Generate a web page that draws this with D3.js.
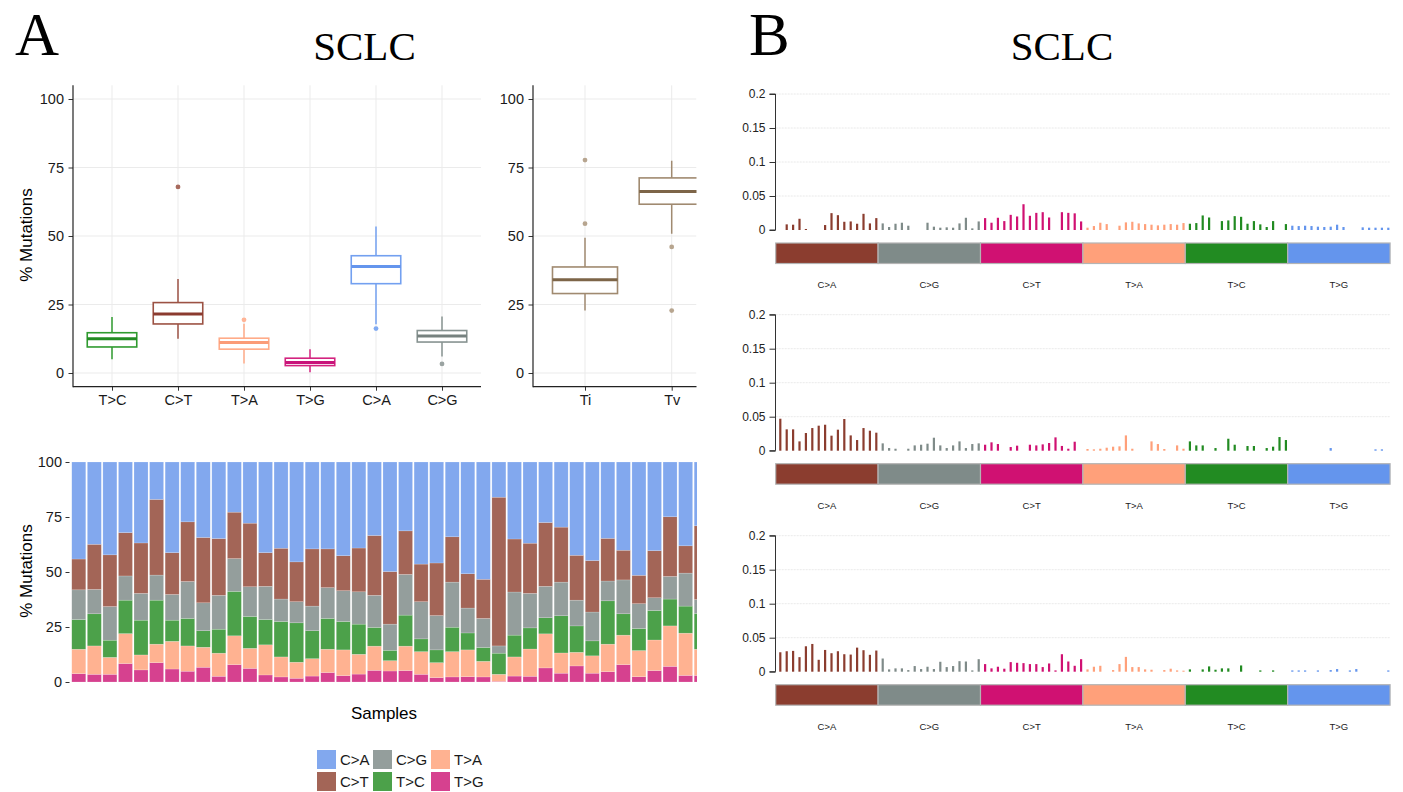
<!DOCTYPE html>
<html><head><meta charset="utf-8">
<script src="https://cdn.jsdelivr.net/npm/d3@7"></script>
<style>body{margin:0;background:#fff}svg{display:block}</style>
</head><body>
<svg id="c" width="1403" height="792"></svg>
<script>
// ---------------- DATA ----------------
// Panel A, box plot of six substitution classes (% mutations)
const boxCategories = ["T>C", "C>T", "T>A", "T>G", "C>A", "C>G"];
const boxLow    = [5.0, 12.5, 3.5, 0.3, 17.8, 6.0];
const boxQ1     = [9.5, 17.9, 8.7, 2.7, 32.6, 11.3];
const boxMedian = [12.5, 21.5, 11.1, 3.8, 38.9, 13.5];
const boxQ3     = [14.7, 25.7, 12.7, 5.4, 42.8, 15.5];
const boxHigh   = [20.4, 34.3, 18.0, 8.7, 53.5, 20.6];
const boxOutliers = [[], [67.9], [19.4], [], [16.2], [3.3]];

// Panel A, Ti / Tv box plot
const titvCategories = ["Ti", "Tv"];
const titvLow    = [22.8, 50.8];
const titvQ1     = [29.0, 61.6];
const titvMedian = [34.0, 66.2];
const titvQ3     = [38.7, 71.2];
const titvHigh   = [49.4, 77.5];
const titvOutliers = [[54.5, 77.7], [46.0, 22.8]];

// Panel A, stacked bars per sample (% of mutations)
const yTicks = [0, 25, 50, 75, 100];
const sampleIds = d3.range(1, 42).map(String);
const pctTG = [3.8,3.5,3.5,8.4,5.5,8.8,5.9,4.9,6.7,2.6,7.9,6.2,3.2,2.3,1.7,2.7,4.3,2.9,3.6,5.3,5.0,5.2,3.5,2.0,2.3,2.4,2.3,0.3,2.7,2.6,6.4,4.0,7.3,4.0,4.7,7.9,2.4,5.2,7.1,3.0,3.0];
const pctTA = [11.1,12.9,7.7,13.6,6.8,8.4,12.6,11.5,9.1,10.5,13.1,9.1,13.7,9.1,7.3,7.9,10.6,11.7,9.0,11.0,4.7,11.1,10.3,6.8,11.5,12.2,7.1,3.2,8.7,12.4,15.5,9.2,6.2,7.9,12.5,13.4,11.9,13.9,18.4,19.2,11.9];
const pctTC = [13.5,14.6,7.8,15.2,15.8,20.0,9.6,12.5,7.5,10.9,20.2,14.5,11.5,16.1,17.9,12.7,14.0,12.9,13.7,8.5,4.7,14.1,5.8,5.8,11.1,7.7,6.3,9.6,9.9,9.6,7.3,16.9,12.0,6.8,19.7,9.7,10.0,13.4,12.2,12.3,16.3];
const pctCG = [13.5,11.1,15.3,11.0,12.2,11.4,11.7,16.8,12.7,15.4,14.9,13.5,15.1,10.2,9.6,11.2,14.0,14.0,14.7,14.6,11.9,18.5,16.9,15.6,20.5,11.3,13.2,3.3,19.6,15.7,14.3,15.3,11.7,13.1,9.0,15.4,11.3,5.8,10.3,15.0,6.3];
const pctCT = [14.0,20.5,23.5,19.7,22.9,34.4,19.0,27.1,29.7,25.8,21.1,28.9,15.3,23.1,18.1,26.0,17.6,15.9,19.9,27.2,23.9,19.8,17.1,23.9,20.6,15.6,17.8,67.6,24.1,22.8,29.0,25.0,20.4,23.4,19.4,13.5,12.9,21.4,27.1,12.4,33.5];
const pctCA = [44.1,37.4,42.2,32.1,36.8,17.0,41.2,27.2,34.3,34.8,22.8,27.8,41.2,39.2,45.4,39.5,39.5,42.6,39.1,33.4,49.8,31.3,46.4,45.9,34.0,50.8,53.3,16.0,35.0,36.9,27.5,29.6,42.4,44.8,34.7,40.1,51.5,40.3,24.9,38.1,29.0];
const legendOrder = ["C>A", "C>G", "T>A", "C>T", "T>C", "T>G"];

// Panel B, 96-channel spectra
const mutationTypes = ["C>A", "C>G", "C>T", "T>A", "T>C", "T>G"];
const specTicks = [0, 0.05, 0.1, 0.15, 0.2];
const spectrum1 = [
 0,0.0083,0.0078,0.0165,0.0015,0,0,0.0073,0.0248,0.0218,0.0121,0.0126,0.0092,0.0238,0.0097,0.0175,
 0.0097,0.0044,0.0092,0.0107,0.0063,0,0,0.0107,0.0049,0.0034,0.0039,0.0034,0.0097,0.018,0.0024,0.0126,
 0.0175,0.0107,0.018,0.0131,0.0223,0.0199,0.0379,0.0209,0.0252,0.0262,0.0184,0,0.0262,0.0252,0.0245,0.0126,
 0.0034,0.0058,0.0107,0.0087,0,0.0063,0.0112,0.0121,0.0097,0.0087,0.0078,0.0068,0.0078,0.0087,0.0078,0.0102,
 0.0092,0.0102,0.0214,0.0184,0,0.0131,0.0141,0.0204,0.0194,0.0092,0.0131,0.0083,0.0044,0.0131,0,0.0087,
 0.0063,0.0058,0.0063,0.0058,0.0049,0.0044,0.0049,0.0078,0.0044,0,0,0.0039,0.0034,0.0034,0.0034,0.0034];
const spectrum2 = [
 0.047,0.0314,0.0314,0.0137,0.026,0.0333,0.0368,0.0382,0.0221,0.0309,0.0466,0.0225,0.0157,0.0333,0.0294,0.0265,
 0.0108,0.0039,0.0029,0,0.0029,0.0078,0.0088,0.0103,0.0191,0.0078,0.0039,0.0078,0.0137,0.0039,0.0098,0.0108,
 0.0088,0.0123,0.0098,0,0.0054,0.0074,0,0.0088,0.0078,0.0093,0.0113,0.0196,0.007,0.0029,0.0132,0,
 0.0025,0.002,0.0029,0.0044,0.0059,0.0064,0.0225,0.0029,0,0,0.0137,0.0098,0.0025,0,0.0078,0.0029,
 0.0137,0.0078,0.0078,0,0.0039,0,0.0176,0.0088,0,0.0069,0.0069,0,0.0039,0.0059,0.0201,0.0157,
 0,0,0,0,0,0,0.0039,0,0,0,0,0,0,0.002,0.002,0];
const spectrum3 = [
 0.0286,0.0301,0.0306,0.0214,0.0374,0.0408,0.0175,0.032,0.0272,0.0301,0.0257,0.0252,0.0354,0.0316,0.0248,0.0311,
 0.0194,0.0034,0.0049,0.0049,0.0024,0.0083,0.0039,0.0073,0.0039,0.0146,0.0068,0.0083,0.0155,0.015,0.0019,0.0184,
 0.0112,0.0049,0.0073,0.0044,0.0141,0.0131,0.0126,0.0112,0.0112,0.0068,0.0121,0.0019,0.0257,0.015,0.0087,0.0184,
 0.0034,0.0073,0.0087,0,0.0024,0.0112,0.0218,0.0068,0.0068,0.0034,0.0029,0,0.0024,0.0044,0.0019,0.0015,
 0.0034,0,0.0034,0.0078,0.0029,0.0049,0.0049,0,0.0092,0,0,0.0019,0,0.0019,0,0,
 0.0019,0.0019,0.0019,0,0.0019,0,0.0024,0.0039,0,0.0019,0.0039,0,0,0,0,0.0019];

// ---------------- STYLE ----------------
const SANS = "'Liberation Sans', Arial, sans-serif";
const SERIF = "'Liberation Serif', 'Times New Roman', serif";
const boxStroke = {"T>C":"#2f9b2f","C>T":"#9c5244","T>A":"#ffab88","T>G":"#d3237f","C>A":"#73a0f0","C>G":"#879391"};
const boxMed    = {"T>C":"#228B22","C>T":"#8B3A2E","T>A":"#fb9c78","T>G":"#c8137a","C>A":"#6495ED","C>G":"#76817f"};
const boxPt     = {"T>C":"#5fb35f","C>T":"#a76a5d","T>A":"#ffb496","T>G":"#dc5aa0","C>A":"#80aaf2","C>G":"#9aa3a1"};
const stackColor = {"C>A":"#82a8ee","C>T":"#a36557","C>G":"#949e9c","T>A":"#ffb291","T>C":"#4ca14a","T>G":"#d6418f"};
const specColor = {"C>A":"#8b3d2f","C>G":"#7f8b89","C>T":"#d01172","T>A":"#ffa07a","T>C":"#228b22","T>G":"#6495ed"};

const svg = d3.select("#c");
const txt = (x, y, s, size, fam, anchor) => svg.append("text").attr("x", x).attr("y", y)
  .attr("text-anchor", anchor || "start").style("font-family", fam).style("font-size", size + "px")
  .attr("fill", "#000").text(s);

// titles
txt(15, 54.5, "A", 61, SERIF);
txt(364.5, 60, "SCLC", 41, SERIF, "middle");
txt(749, 54.5, "B", 61, SERIF);
txt(1062, 60, "SCLC", 41, SERIF, "middle");

// ---------------- BOX PLOTS ----------------
const yB = d3.scaleLinear().domain([0, 100]).range([373, 99]);
const yTop = yB(105), yBot = yB(-5);

svg.append("defs").append("clipPath").attr("id", "clipTitv")
  .append("rect").attr("x", 520).attr("y", 70).attr("width", 176.5).attr("height", 340);
svg.select("defs").append("clipPath").attr("id", "clipStack")
  .append("rect").attr("x", 60).attr("y", 450).attr("width", 637).attr("height", 240);

function boxPanel(cats, lo, q1, med, q3, hi, outs, left, right, c0, c1, colorOf, clip) {
  const x = d3.scalePoint().domain(cats).range([c0, c1]);
  const step = cats.length > 1 ? (c1 - c0) / (cats.length - 1) : 60;
  const bw = step * 0.75;
  const g = svg.append("g");
  const inner = g.append("g");
  if (clip) inner.attr("clip-path", "url(#" + clip + ")");
  // grid
  inner.selectAll(".hg").data(yTicks).join("line")
    .attr("x1", left).attr("x2", right).attr("y1", d => yB(d)).attr("y2", d => yB(d))
    .attr("stroke", "#ebebeb").attr("stroke-width", 1);
  inner.selectAll(".vg").data(cats).join("line")
    .attr("x1", d => x(d)).attr("x2", d => x(d)).attr("y1", yTop).attr("y2", yBot)
    .attr("stroke", "#ebebeb").attr("stroke-width", 1);
  cats.forEach((c, i) => {
    const col = colorOf(c);
    const cx = x(c);
    inner.append("line").attr("x1", cx).attr("x2", cx).attr("y1", yB(hi[i])).attr("y2", yB(q3[i]))
      .attr("stroke", col.s).attr("stroke-width", 1.5);
    inner.append("line").attr("x1", cx).attr("x2", cx).attr("y1", yB(q1[i])).attr("y2", yB(lo[i]))
      .attr("stroke", col.s).attr("stroke-width", 1.5);
    inner.append("rect").attr("x", cx - bw / 2).attr("width", bw)
      .attr("y", yB(q3[i])).attr("height", yB(q1[i]) - yB(q3[i]))
      .attr("fill", "#fff").attr("stroke", col.s).attr("stroke-width", 1.6);
    inner.append("line").attr("x1", cx - bw / 2).attr("x2", cx + bw / 2)
      .attr("y1", yB(med[i])).attr("y2", yB(med[i]))
      .attr("stroke", col.m).attr("stroke-width", 3);
    inner.selectAll(null).data(outs[i]).join("circle")
      .attr("cx", cx).attr("cy", d => yB(d)).attr("r", 2.4).attr("fill", col.p);
  });
  // axes
  const ya = g.append("g").attr("transform", `translate(${left},0)`)
    .call(d3.axisLeft(yB).tickValues(yTicks).tickSize(4.5).tickPadding(4.5));
  ya.select(".domain").remove();
  const xa = g.append("g").attr("transform", `translate(0,${yBot})`)
    .call(d3.axisBottom(x).tickSize(4).tickPadding(4.5));
  xa.select(".domain").remove();
  [ya, xa].forEach(a => {
    a.selectAll("text").style("font-family", SANS).style("font-size", "14.5px").attr("fill", "#1a1a1a");
    a.selectAll("line").attr("stroke", "#333");
  });
  g.append("line").attr("x1", left).attr("x2", left).attr("y1", yTop).attr("y2", yBot + 0.5)
    .attr("stroke", "#222").attr("stroke-width", 1.2);
  g.append("line").attr("x1", left).attr("x2", right).attr("y1", yBot).attr("y2", yBot)
    .attr("stroke", "#222").attr("stroke-width", 1.2);
}

boxPanel(boxCategories, boxLow, boxQ1, boxMedian, boxQ3, boxHigh, boxOutliers,
  73, 481, 112, 442, c => ({s: boxStroke[c], m: boxMed[c], p: boxPt[c]}), null);
boxPanel(titvCategories, titvLow, titvQ1, titvMedian, titvQ3, titvHigh, titvOutliers,
  533, 696.5, 585, 671.7, c => ({s: "#a08a70", m: "#7d6548", p: "#b7a58f"}), "clipTitv");

svg.append("text").attr("transform", "translate(32,235) rotate(-90)").attr("text-anchor", "middle")
  .style("font-family", SANS).style("font-size", "17px").text("% Mutations");

// ---------------- STACKED BARS ----------------
const stackKeys = ["T>G", "T>A", "T>C", "C>G", "C>T", "C>A"];
const stackSeries = {"T>G": pctTG, "T>A": pctTA, "T>C": pctTC, "C>G": pctCG, "C>T": pctCT, "C>A": pctCA};
const rows = sampleIds.map((id, i) => {
  const r = {id};
  stackKeys.forEach(k => r[k] = stackSeries[k][i]);
  return r;
});
const stacked = d3.stack().keys(stackKeys)(rows);
const xS = d3.scaleBand().domain(sampleIds).range([71, 71 + 15.56 * sampleIds.length]).paddingInner(0.1).paddingOuter(0.05);
const yS = d3.scaleLinear().domain([0, 100]).range([682, 462]);
const sg = svg.append("g").attr("clip-path", "url(#clipStack)");
sg.selectAll("g").data(stacked).join("g").attr("fill", d => stackColor[d.key])
  .selectAll("rect").data(d => d).join("rect")
  .attr("x", d => xS(d.data.id)).attr("width", xS.bandwidth())
  .attr("y", d => yS(Math.min(100, d[1]))).attr("height", d => yS(d[0]) - yS(Math.min(100, d[1])))
  .attr("stroke", "rgba(255,255,255,0.35)").attr("stroke-width", 0.5);
const sa = svg.append("g").attr("transform", "translate(69.5,0)")
  .call(d3.axisLeft(yS).tickValues(yTicks).tickSize(4).tickPadding(3.5));
sa.select(".domain").remove();
sa.selectAll("text").style("font-family", SANS).style("font-size", "14.5px").attr("fill", "#1a1a1a");
sa.selectAll("line").attr("stroke", "#333");
svg.append("text").attr("transform", "translate(32,571) rotate(-90)").attr("text-anchor", "middle")
  .style("font-family", SANS).style("font-size", "17px").text("% Mutations");
txt(384, 719, "Samples", 17, SANS, "middle");

// legend
const legCols = [317, 373, 431], legRows = [750, 772];
legendOrder.forEach((k, i) => {
  const lx = legCols[i % 3], ly = legRows[Math.floor(i / 3)];
  svg.append("rect").attr("x", lx).attr("y", ly).attr("width", 19).attr("height", 19).attr("fill", stackColor[k]);
  svg.append("text").attr("x", lx + 23).attr("y", ly + 9.5).attr("dy", "0.35em")
    .style("font-family", SANS).style("font-size", "15px").attr("fill", "#1a1a1a").text(k);
});

// ---------------- SPECTRA ----------------
const bases = ["A", "C", "G", "T"];
const contexts = [];
mutationTypes.forEach(m => bases.forEach(a => bases.forEach(b => contexts.push(a + "[" + m + "]" + b))));
const xB = d3.scaleBand().domain(contexts).range([775.7, 1390.1]);
const segW = xB.bandwidth() * 16;
const spectra = [spectrum1, spectrum2, spectrum3];
const zeroY = [230, 450.7, 671.7];

spectra.forEach((vals, p) => {
  const y0 = zeroY[p];
  const y = d3.scaleLinear().domain([0, 0.2]).range([y0, y0 - 136]);
  const g = svg.append("g");
  g.selectAll(".grid").data(specTicks.slice(1)).join("line")
    .attr("x1", 775.7).attr("x2", 1390).attr("y1", d => y(d)).attr("y2", d => y(d))
    .attr("stroke", "#e3e3e3").attr("stroke-width", 0.8).attr("stroke-dasharray", "2,1");
  g.selectAll(".bar").data(contexts).join("rect")
    .attr("x", (c) => xB(c) + xB.bandwidth() * 0.72 - 1.1).attr("width", 2.2)
    .attr("y", (c, i) => y(vals[i])).attr("height", (c, i) => y0 - y(vals[i]))
    .attr("fill", (c, i) => specColor[mutationTypes[Math.floor(i / 16)]]);
  const ax = g.append("g").attr("transform", "translate(775.5,0)")
    .call(d3.axisLeft(y).tickValues(specTicks).tickFormat(d => String(d)).tickSize(6).tickPadding(4));
  ax.select(".domain").attr("stroke", "#333").attr("d", `M-6,${y(0)}H0V${y(0.2)}H-6`);
  ax.selectAll("line").attr("stroke", "#333");
  ax.selectAll("text").style("font-family", SANS).style("font-size", "12px").attr("fill", "#222");
  // colour strip
  mutationTypes.forEach((m, i) => {
    const sx = xB(contexts[i * 16]);
    g.append("rect").attr("x", sx).attr("y", y0 + 13).attr("width", segW).attr("height", 20.5)
      .attr("fill", specColor[m]).attr("stroke", "#b4b4b4").attr("stroke-width", 1.2);
    g.append("text").attr("x", sx + segW / 2).attr("y", y0 + 55).attr("dy", "0.35em")
      .attr("text-anchor", "middle").style("font-family", SANS).style("font-size", "9.5px")
      .attr("fill", "#222").text(m);
  });
});
</script>
</body></html>
